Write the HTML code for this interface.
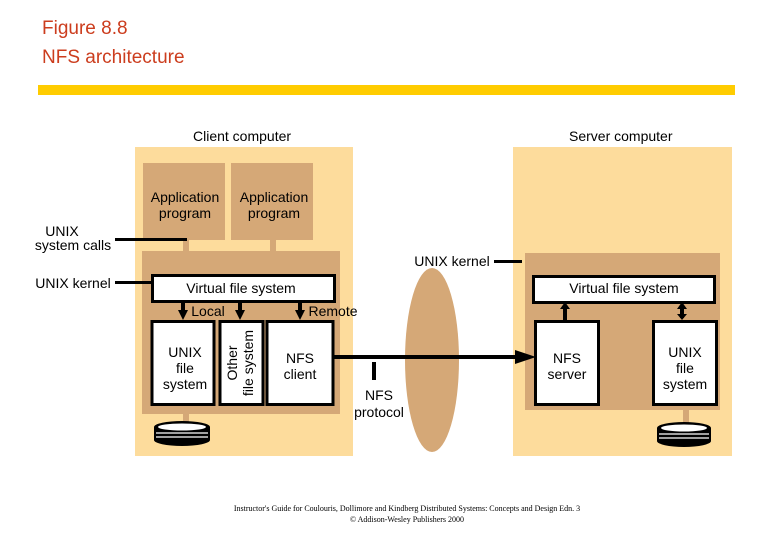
<!DOCTYPE html>
<html><head><style>
html,body{margin:0;padding:0;background:#fff;}
svg{display:block;font-family:"Liberation Sans",sans-serif;}
</style></head><body>
<svg width="780" height="540" viewBox="0 0 780 540" xmlns="http://www.w3.org/2000/svg">
<text x="42" y="34" font-size="19" fill="#cc3d1e">Figure 8.8</text>
<text x="42" y="63" font-size="19" fill="#cc3d1e">NFS architecture</text>
<rect x="38" y="85" width="697" height="10" fill="#ffcc00"/>
<g font-size="14" fill="#000">
<text x="193" y="141">Client computer</text>
<text x="569" y="141">Server computer</text>
</g>
<!-- client -->
<rect x="135" y="147" width="218" height="309" fill="#fddc9c"/>
<rect x="143" y="163" width="82" height="77" fill="#d5a877"/>
<rect x="231" y="163" width="82" height="77" fill="#d5a877"/>
<rect x="183" y="240" width="6" height="12" fill="#d5a877"/>
<rect x="270" y="240" width="6" height="12" fill="#d5a877"/>
<rect x="142" y="251" width="198" height="163" fill="#d5a877"/>
<rect x="183" y="414" width="6" height="10" fill="#d5a877"/>
<g font-size="14" text-anchor="middle">
<text x="185" y="202">Application</text><text x="185" y="218">program</text>
<text x="274" y="202">Application</text><text x="274" y="218">program</text>
</g>
<rect x="152.5" y="275.5" width="182" height="26" fill="#fff" stroke="#000" stroke-width="3"/>
<text x="241" y="293" font-size="14" text-anchor="middle">Virtual file system</text>
<rect x="152" y="321.5" width="62" height="83" fill="#fff" stroke="#000" stroke-width="3"/>
<rect x="220" y="321.5" width="43" height="83" fill="#fff" stroke="#000" stroke-width="3"/>
<rect x="267" y="321.5" width="66" height="83" fill="#fff" stroke="#000" stroke-width="3"/>
<g font-size="14" text-anchor="middle">
<text x="185" y="357">UNIX</text><text x="185" y="373">file</text><text x="185" y="389">system</text>
<text x="300" y="363">NFS</text><text x="300" y="379">client</text>
<text transform="translate(237,363) rotate(-90)">Other</text>
<text transform="translate(253,363) rotate(-90)">file system</text>
<text x="208" y="316">Local</text>
<text x="333" y="316">Remote</text>
</g>
<g fill="#000">
<rect x="181" y="302" width="4" height="10"/><polygon points="178,310 188,310 183,320"/>
<rect x="238" y="302" width="4" height="10"/><polygon points="235,310 245,310 240,320"/>
<rect x="298" y="302" width="4" height="10"/><polygon points="295,310 305,310 300,320"/>
</g>
<!-- disk client -->
<g>
<ellipse cx="182" cy="440" rx="28" ry="6" fill="#000"/>
<rect x="154" y="427" width="56" height="13" fill="#000"/>
<ellipse cx="182" cy="427" rx="28" ry="6" fill="#000"/>
<ellipse cx="182" cy="427" rx="24" ry="3.5" fill="#fff"/>
<line x1="156" y1="433" x2="208" y2="433" stroke="#fff" stroke-width="1.2"/>
<line x1="156" y1="437" x2="208" y2="437" stroke="#fff" stroke-width="1.2"/>
</g>
<!-- left labels -->
<g font-size="14" text-anchor="middle">
<text x="62" y="236">UNIX</text><text x="73" y="250">system calls</text>
<text x="73" y="288">UNIX kernel</text>
<text x="452" y="266">UNIX kernel</text>
</g>
<rect x="115" y="238" width="72" height="3" fill="#000"/>
<rect x="115" y="281" width="37" height="3" fill="#000"/>
<!-- ellipse -->
<ellipse cx="432" cy="360" rx="27" ry="92" fill="#d5a877"/>
<!-- server -->
<rect x="513" y="147" width="219" height="309" fill="#fddc9c"/>
<rect x="525" y="253" width="195" height="157" fill="#d5a877"/>
<rect x="683" y="405" width="6" height="18" fill="#d5a877"/>
<rect x="494" y="260" width="28" height="3" fill="#000"/>
<rect x="533.5" y="276.5" width="181" height="26" fill="#fff" stroke="#000" stroke-width="3"/>
<text x="624" y="293" font-size="14" text-anchor="middle">Virtual file system</text>
<rect x="535.5" y="321.5" width="63" height="83" fill="#fff" stroke="#000" stroke-width="3"/>
<rect x="653.5" y="321.5" width="63" height="83" fill="#fff" stroke="#000" stroke-width="3"/>
<g font-size="14" text-anchor="middle">
<text x="567" y="363">NFS</text><text x="567" y="379">server</text>
<text x="685" y="357">UNIX</text><text x="685" y="373">file</text><text x="685" y="389">system</text>
</g>
<g fill="#000">
<rect x="563" y="306" width="4" height="14"/><polygon points="560,309 570,309 565,302"/>
<rect x="680" y="306" width="4" height="12"/><polygon points="677,309 687,309 682,302"/><polygon points="677,314 687,314 682,320"/>
</g>
<!-- protocol line -->
<rect x="333" y="355" width="190" height="4" fill="#000"/>
<polygon points="515,350 536,357 515,364" fill="#000"/>
<rect x="372" y="362" width="4" height="18" fill="#000"/>
<g font-size="14" text-anchor="middle" fill="#000">
<text x="379" y="400">NFS</text><text x="379" y="417">protocol</text>
</g>
<!-- disk server -->
<g>
<ellipse cx="684" cy="441" rx="27" ry="6" fill="#000"/>
<rect x="657" y="428" width="54" height="13" fill="#000"/>
<ellipse cx="684" cy="428" rx="27" ry="6" fill="#000"/>
<ellipse cx="684" cy="428" rx="23" ry="3.5" fill="#fff"/>
<line x1="659" y1="434" x2="709" y2="434" stroke="#fff" stroke-width="1.2"/>
<line x1="659" y1="438" x2="709" y2="438" stroke="#fff" stroke-width="1.2"/>
</g>
<g font-family="Liberation Serif,serif" font-size="8" text-anchor="middle">
<text x="407" y="511">Instructor's Guide for Coulouris, Dollimore and Kindberg Distributed Systems: Concepts and Design Edn. 3</text>
<text x="407" y="522">© Addison-Wesley Publishers 2000</text>
</g>
</svg>
</body></html>
